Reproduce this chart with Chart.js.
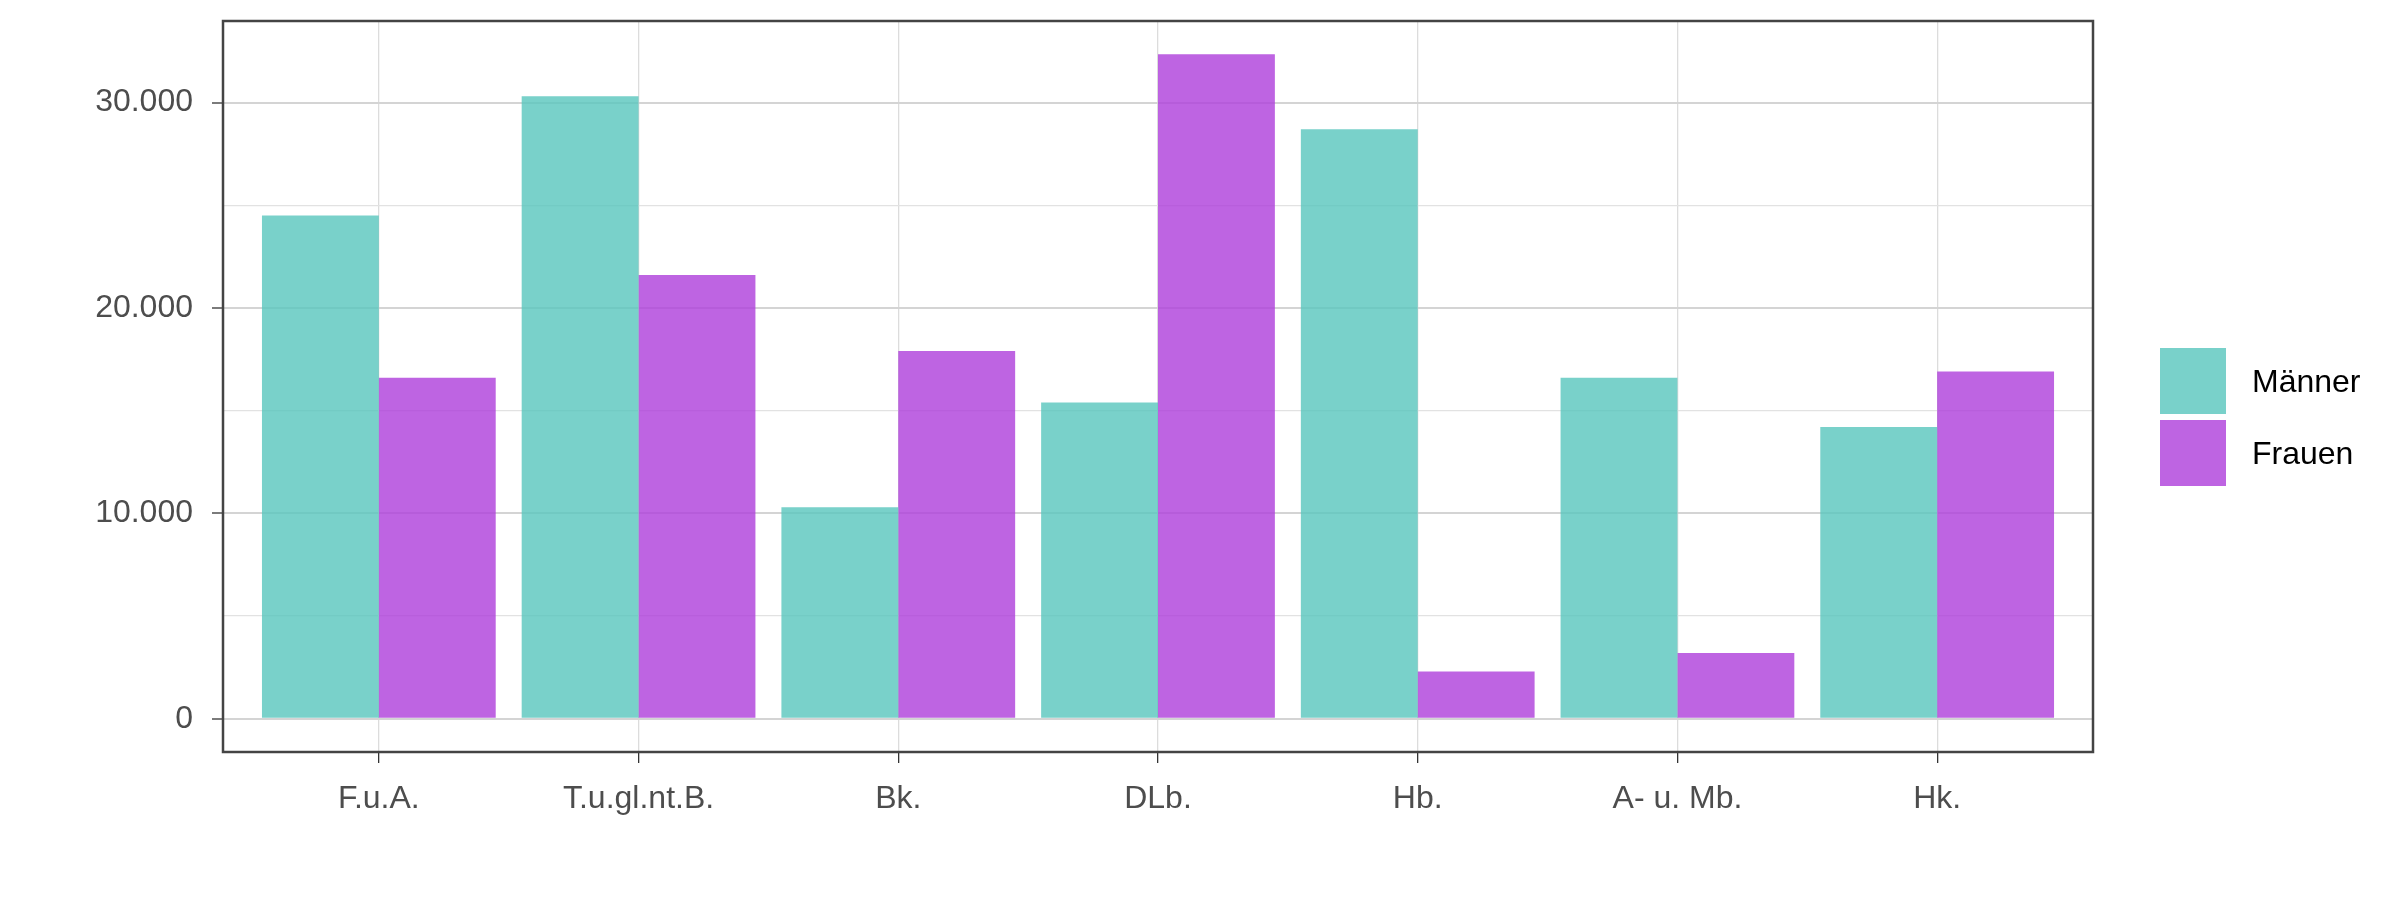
<!DOCTYPE html>
<html lang="de">
<head>
<meta charset="utf-8">
<title>Männer / Frauen</title>
<script src="https://cdn.jsdelivr.net/npm/chart.js@4.4.1/dist/chart.umd.min.js"></script>
<style>
  html, body { margin: 0; padding: 0; background: #fff; }
  #wrap { position: relative; width: 2400px; height: 900px; }
  #legend { position: absolute; left: 2160px; top: 348px; font-family: "Liberation Sans", Arial, sans-serif; font-size: 32px; color: #000; }
  .item { display: flex; align-items: center; height: 66px; margin-bottom: 6px; }
  .key { width: 66px; height: 66px; margin-right: 26px; }
</style>
</head>
<body>
<div id="wrap">
  <canvas id="chart" width="2400" height="900"></canvas>
  <div id="legend"></div>
</div>
<script>
const categories = ["F.u.A.", "T.u.gl.nt.B.", "Bk.", "DLb.", "Hb.", "A- u. Mb.", "Hk."];
const maenner = [24500, 30300, 10300, 15400, 28700, 16600, 14200];
const frauen  = [16600, 21600, 17900, 32350, 2300, 3200, 16900];
const yTicks = [0, 5000, 10000, 15000, 20000, 25000, 30000];
const seriesNames = ["Männer", "Frauen"];
const seriesColors = ["rgba(88,198,189,0.8)", "rgba(174,61,219,0.8)"];

const $ = (id) => document.getElementById(id);

// 30000 -> "30.000"
function fmt(v){
    return String(v).replace(/\B(?=(\d{3})+(?!\d))/g, ".");
}

const yMax = Math.max(...maenner, ...frauen);
const yPad = yMax * 0.05;

// draw the dark panel border on top of the bars
const panelBorder = {
    id: "panelBorder",
    afterDatasetsDraw(chart){
        const a = chart.chartArea, ctx = chart.ctx;
        ctx.save();
        ctx.strokeStyle = "#444444";
        ctx.lineWidth = 2.5;
        ctx.strokeRect(a.left, a.top, a.right - a.left, a.bottom - a.top);
        ctx.restore();
    }
};

const ctx = $("chart").getContext("2d");
new Chart(ctx, {
    type: "bar",
    data: {
        datasets: [
            { label: seriesNames[0], data: maenner.map((v, i) => ({ x: i, y: v })), backgroundColor: seriesColors[0], borderWidth: 0 },
            { label: seriesNames[1], data: frauen.map((v, i) => ({ x: i, y: v })), backgroundColor: seriesColors[1], borderWidth: 0 }
        ]
    },
    options: {
        responsive: false,
        devicePixelRatio: 1,
        animation: false,
        categoryPercentage: 0.9,
        barPercentage: 1.0,
        layout: { padding: { top: 21, right: 307, left: 0, bottom: 0 } },
        plugins: { legend: { display: false }, tooltip: { enabled: false } },
        scales: {
            x: {
                type: "linear",
                min: -0.6,
                max: categories.length - 1 + 0.6,
                offset: false,
                afterBuildTicks: (s) => { s.ticks = categories.map((_, i) => ({ value: i })); },
                afterFit: (s) => { s.height = 148; s.paddingLeft = 0; s.paddingRight = 0; },
                border: { display: false },
                grid: { offset: false, color: "#DCDCDC", lineWidth: 1.3, tickLength: 11, tickColor: "#333333", tickWidth: 1.3 },
                ticks: {
                    autoSkip: false,
                    maxRotation: 0,
                    padding: 17,
                    color: "#4D4D4D",
                    font: { family: "'Liberation Sans', Arial, sans-serif", size: 32 },
                    callback: (v) => categories[v]
                }
            },
            y: {
                min: -yPad,
                max: yMax + yPad,
                afterBuildTicks: (s) => { s.ticks = yTicks.map(v => ({ value: v })); },
                afterFit: (s) => { s.width = 223; s.paddingTop = 0; s.paddingBottom = 0; },
                border: { display: false },
                grid: {
                    color: (c) => c.tick && c.tick.value % 10000 === 0 ? "#D4D4D4" : "#E2E2E2",
                    lineWidth: (c) => c.tick && c.tick.value % 10000 === 0 ? 2 : 1.3,
                    tickLength: 11,
                    tickWidth: 1.3,
                    tickColor: (c) => c.tick && c.tick.value % 10000 === 0 ? "#333333" : "rgba(0,0,0,0)"
                },
                ticks: {
                    padding: 19,
                    color: "#4D4D4D",
                    font: { family: "'Liberation Sans', Arial, sans-serif", size: 32 },
                    callback: (v) => v % 10000 === 0 ? fmt(v) : ""
                }
            }
        }
    },
    plugins: [panelBorder]
});

// legend as plain html next to the panel
$("legend").innerHTML = seriesNames.map((n, i) =>
    `<div class="item"><div class="key" style="background:${seriesColors[i]}"></div><span>${n}</span></div>`
).join("");
</script>
</body>
</html>
